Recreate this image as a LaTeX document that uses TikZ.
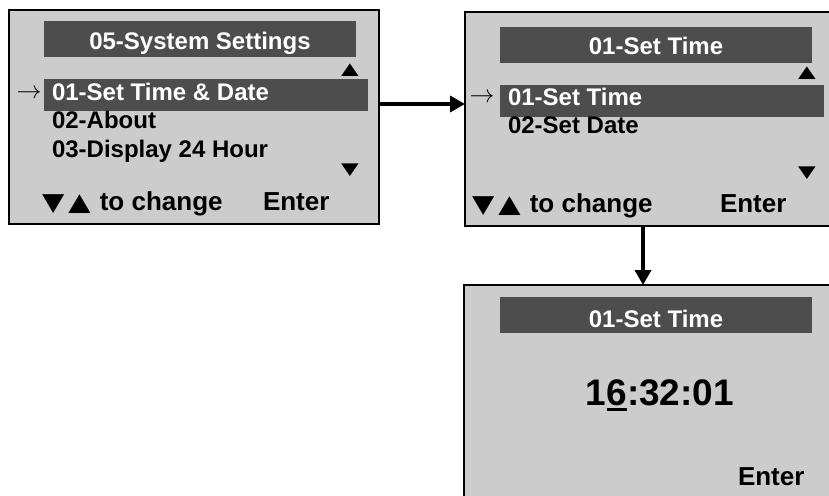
\documentclass[tikz,border=0pt]{standalone}
\usepackage{fontspec}
\setmainfont{Liberation Sans}
\newfontfamily\symfont{DejaVu Sans}
\usetikzlibrary{arrows.meta, positioning}
\definecolor{lcdgray}{RGB}{204,204,204}
\definecolor{bardark}{RGB}{77,77,77}
\newcommand{\lcdtri}[1]{{\symfont\fontsize{23}{23}\selectfont\scalebox{1}[0.72]{#1}}}
\newcommand{\lcdkey}[1]{{\symfont\fontsize{29}{29}\selectfont\scalebox{1}[0.85]{#1}}}
\newlength{\curwd}
\newcommand{\lcdcursor}[1]{\settowidth{\curwd}{#1}\rlap{\rule[-6pt]{\curwd}{3.5pt}}#1}

\begin{document}
\begin{tikzpicture}[x=1pt, y=-1pt,
    every node/.style={inner sep=0pt, outer sep=0pt},
    screen/.style={rectangle, draw, line width=2.2pt, fill=lcdgray, anchor=north west},
    bar/.style={rectangle, fill=bardark, anchor=north west},
    item/.style={anchor=base west, font=\fontsize{24}{24}\selectfont\bfseries},
    head/.style={item, anchor=base, text=white},
    hint/.style={item, font=\fontsize{26}{26}\selectfont\bfseries},
    pointer/.style={font=\fontsize{24}{24}\selectfont},
    conn/.style={line width=3.5pt, -{Triangle[length=15pt, width=16pt]}}
]
    \useasboundingbox (0,0) rectangle (829,495);

    % 05-System Settings
    \node[screen, minimum width=370pt, minimum height=214pt] (sys) at (9,10) {};
    \node[bar, minimum width=312pt, minimum height=36pt] (sysHead) at (44,21) {};
    \node[head] (sysTitle) at (200,50) {05-System Settings};
    \node (sysUp) at (350,70) {\lcdtri{▲}};
    \node[bar, minimum width=324pt, minimum height=32pt] (sysSel) at (44,79) {};
    \node[pointer] (sysPtr) at (29,94) {$\rightarrow$};
    \node[item, text=white] (sysItemA) at (52,100) {01-Set Time \& Date};
    \node[item] (sysItemB) at (52,128) {02-About};
    \node[item] (sysItemC) at (52,157) {03-Display 24 Hour};
    \node (sysDown) at (350,170) {\lcdtri{▼}};
    \node[hint] (sysHint) at (42,210) {\lcdkey{▼}\hspace{4pt}\lcdkey{▲}\hspace{2pt} to change};
    \node[hint] (sysEnter) at (263,210) {Enter};

    % 01-Set Time (menu)
    \node[screen, minimum width=368pt, minimum height=214pt] (time) at (465,12) {};
    \node[bar, minimum width=312pt, minimum height=36pt] (timeHead) at (500,27) {};
    \node[head] (timeTitle) at (656,55) {01-Set Time};
    \node (timeUp) at (807,73) {\lcdtri{▲}};
    \node[bar, minimum width=324pt, minimum height=32pt] (timeSel) at (500,85) {};
    \node[pointer] (timePtr) at (482,98) {$\rightarrow$};
    \node[item, text=white] (timeItemA) at (508,105) {01-Set Time};
    \node[item] (timeItemB) at (508,133) {02-Set Date};
    \node (timeDown) at (807,173) {\lcdtri{▼}};
    \node[hint] (timeHint) at (472,212) {\lcdkey{▼}\hspace{4pt}\lcdkey{▲}\hspace{2pt} to change};
    \node[hint] (timeEnter) at (720,212) {Enter};

    % 01-Set Time (edit)
    \node[screen, minimum width=368pt, minimum height=214pt] (clock) at (464,285) {};
    \node[bar, minimum width=312pt, minimum height=36pt] (clockHead) at (500,297) {};
    \node[head] (clockTitle) at (656,327) {01-Set Time};
    \node[item, anchor=base, font=\fontsize{37}{37}\selectfont\bfseries] (clockValue) at (660,405) {1\lcdcursor{6}:32:01};
    \node[hint] (clockEnter) at (738,485) {Enter};

    \coordinate (hop) at (420,104);
    \coordinate (drop) at (643,255);
    \draw[conn] (sys.east |- hop) -- (time.west |- hop);
    \draw[conn] (time.south -| drop) -- (clock.north -| drop);
\end{tikzpicture}
\end{document}
